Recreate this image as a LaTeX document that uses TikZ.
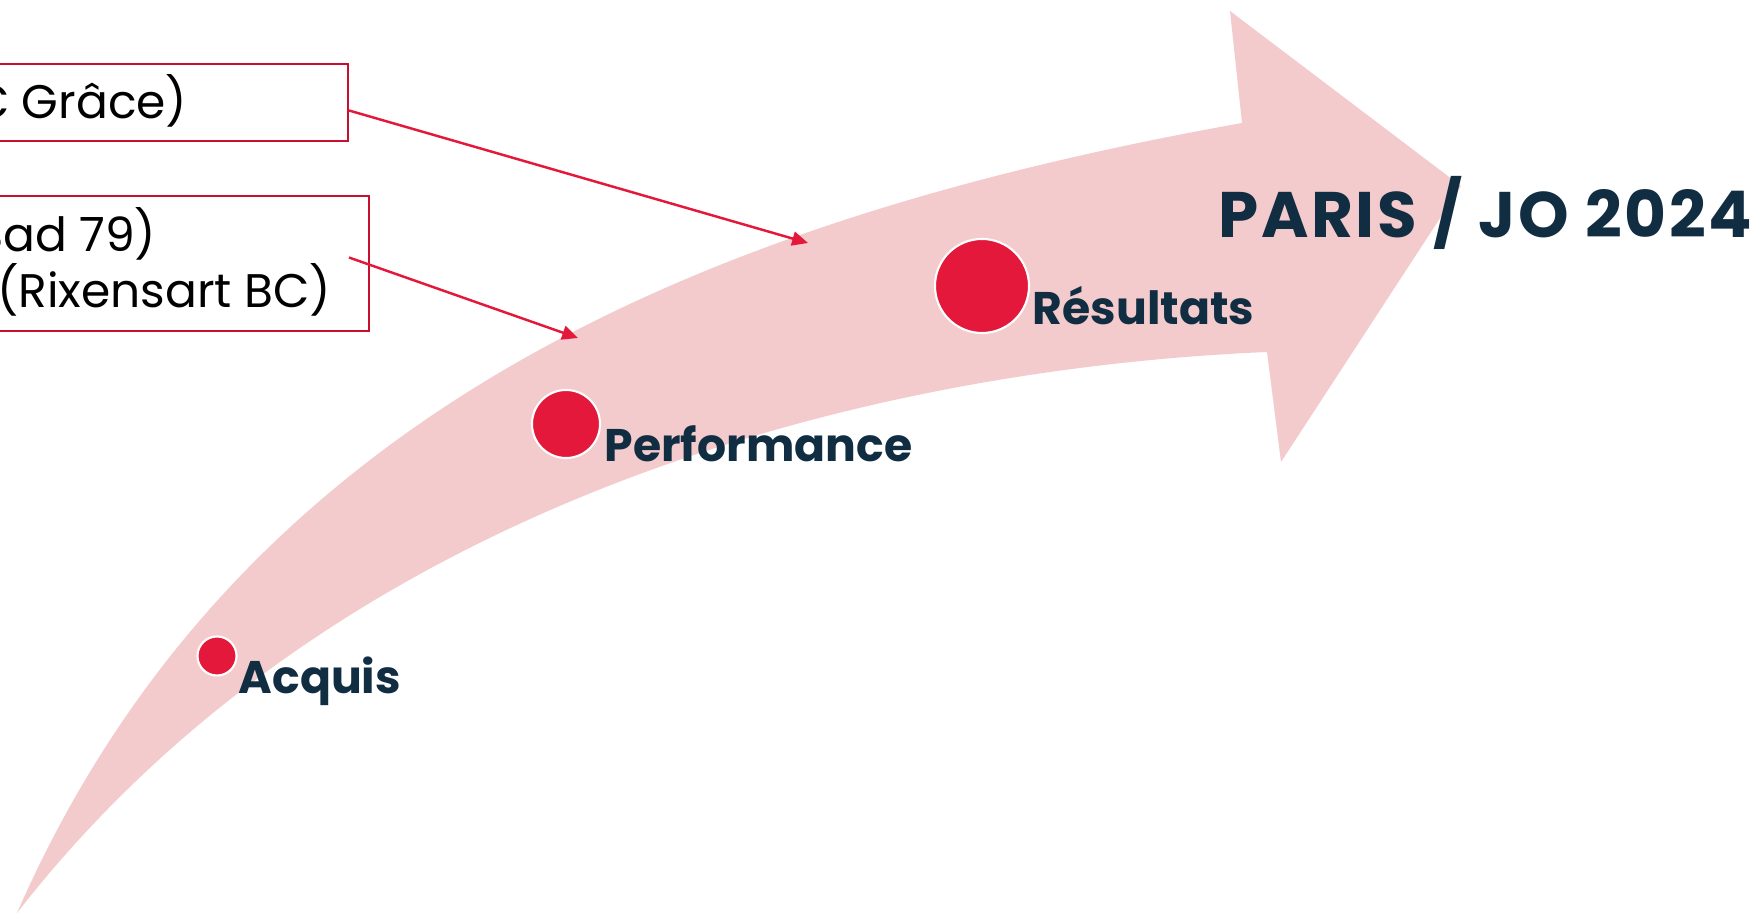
\documentclass[tikz,border=0pt]{standalone}
\usepackage{fontspec}
\setmainfont{Poppins}
\usepackage{xcolor}
\usetikzlibrary{arrows.meta,calc}
\definecolor{bandpink}{HTML}{F4CBCC}
\definecolor{dotred}{HTML}{E3183A}
\definecolor{boxred}{HTML}{C8102E}
\definecolor{inkblue}{HTML}{112D42}

\begin{document}
\begin{tikzpicture}[x=0.01cm, y=-0.01cm,
  dot/.style={circle, fill=dotred, draw=white, line width=0.6pt, inner sep=0pt},
  stage/.style={anchor=base west, text=inkblue, font=\fontsize{13}{15}\selectfont\bfseries, inner sep=0pt},
  infobox/.style={draw=boxred, line width=0.6pt, anchor=east, inner sep=0pt},
  infotext/.style={anchor=base east, font=\fontsize{13.4}{16}\selectfont, inner sep=0pt},
  pointer/.style={draw=dotred, line width=0.7pt, -{Triangle[length=4.5pt,width=4pt]}}]
  \useasboundingbox (0,0) rectangle (1757,916);
  \fill[white] (0,0) rectangle (1757,916);
  \fill[bandpink] (17,913) .. controls (235,415) and (700,220) .. (1242,123)
    -- (1230,11) -- (1461,186) -- (1281,462) -- (1267,352)
    .. controls (850,370) and (330,510) .. (17,913) -- cycle;
  \node[dot, minimum size=0.39cm] (acq) at (217,656) {};
  \node[dot, minimum size=0.68cm] (perf) at (566,424) {};
  \node[dot, minimum size=0.94cm] (res) at (982,286) {};
  \node[stage] (acqlbl) at (238,694) {Acquis};
  \node[stage] (perflbl) at (604,462) {Performance};
  \node[stage] (reslbl) at (1032,325) {Résultats};
  \node[stage, font=\fontsize{18.3}{22}\selectfont\bfseries\addfontfeatures{LetterSpace=4}] (goal) at (1218,238) {PARIS / JO 2024};
  \node[infobox, minimum width=4.2cm, minimum height=0.77cm] (box1) at (349,102.5) {};
  \node[infobox, minimum width=4.4cm, minimum height=1.35cm] (box2) at (370,263.5) {};
  \node[infotext] (club1) at (188,119) {C Grâce)};
  \node[infotext] (club2) at (157,252) {Bad 79)};
  \node[infotext] (club3) at (332,308) {(Rixensart BC)};
  \coordinate (hit1) at (808,243);
  \coordinate (hit2) at (578,338);
  \draw[pointer] ($(box1.east)+(0,8)$) -- (hit1);
  \draw[pointer] ($(box2.east)+(-21,-6)$) -- (hit2);
\end{tikzpicture}
\end{document}
